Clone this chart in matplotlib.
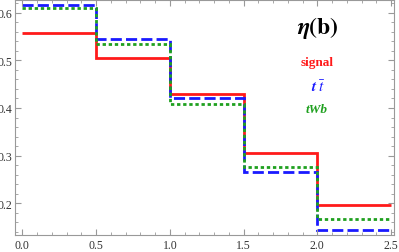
import numpy as np
import matplotlib.pyplot as plt
from matplotlib.ticker import MultipleLocator

edges = [0.0, 0.5, 1.0, 1.5, 2.0, 2.5]
signal = [0.558, 0.506, 0.429, 0.306, 0.196]
ttbar = [0.617, 0.544, 0.421, 0.265, 0.143]
twb = [0.611, 0.535, 0.408, 0.276, 0.167]

plt.rcParams['font.family'] = 'Liberation Serif'
plt.rcParams['mathtext.fontset'] = 'stix'

fig = plt.figure(figsize=(3.99, 2.53), dpi=100)
ax = fig.add_axes([15/399, 17/253, 379/399, 235/253])

ax.stairs(signal, edges, color='#ff1a1a', lw=2.0, baseline=None)
ax.stairs(ttbar, edges, color='#1a1aff', lw=2.0, ls=(0, (4, 1.5)), baseline=None)
ax.stairs(twb, edges, color='#1fa01f', lw=2.0, ls=(0, (1.2, 1)), baseline=None)

ax.set_xlim(-0.05, 2.52)
ax.set_ylim(0.133, 0.627)
ax.xaxis.set_major_locator(MultipleLocator(0.5))
ax.xaxis.set_minor_locator(MultipleLocator(0.1))
ax.yaxis.set_major_locator(MultipleLocator(0.1))
ax.yaxis.set_minor_locator(MultipleLocator(0.02))
ax.xaxis.set_major_formatter(plt.FormatStrFormatter('%.1f'))
ax.yaxis.set_major_formatter(plt.FormatStrFormatter('%.1f'))
ax.tick_params(which='both', direction='in', top=True, right=True,
               color='#999999', labelsize=8.5, labelcolor='#333333')
ax.tick_params(axis='y', pad=2)
ax.tick_params(axis='x', pad=3)
ax.tick_params(which='major', length=4)
ax.tick_params(which='minor', length=2)
for s in ax.spines.values():
    s.set_color('#999999')
    s.set_linewidth(0.8)

ax.text(0.80, 0.885, r'$\boldsymbol{\eta}\mathbf{(b)}$', transform=ax.transAxes, fontsize=17,
        ha='center', va='center')
ax.text(0.797, 0.736, 'signal', transform=ax.transAxes, fontsize=9.5,
        fontweight='bold', color='#ff1a1a', ha='center', va='center')
ax.text(0.80, 0.635, r'$\boldsymbol{t\;\bar{t}}$', transform=ax.transAxes, fontsize=11,
        color='#1a1aff', ha='center', va='center')
ax.text(0.797, 0.536, 'tWb', transform=ax.transAxes, fontsize=9.5, fontweight='bold',
        style='italic', color='#1fa01f', ha='center', va='center')

fig.savefig('out.png', dpi=100)
